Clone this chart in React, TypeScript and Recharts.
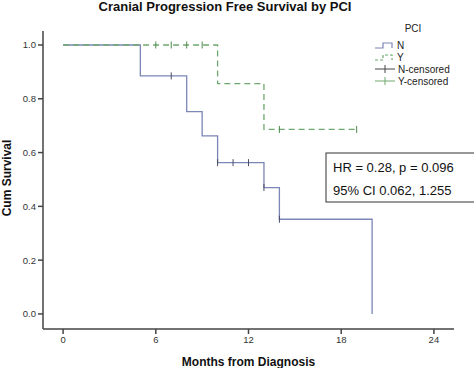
import { ComposedChart, Line, Scatter, XAxis, YAxis, Label } from 'recharts';

// Kaplan-Meier step points (months, cum survival)
const nMonths = [0, 5, 8, 9, 10, 13, 14, 20];
const nSurvival = [1, 0.885, 0.752, 0.662, 0.5625, 0.47, 0.352, 0];
const yMonths = [0, 10, 13, 19];
const ySurvival = [1, 0.856, 0.686, 0.686];

// censored observations
const nCensorMonths = [7, 10, 11, 12, 13, 14];
const nCensorSurvival = [0.885, 0.5625, 0.5625, 0.5625, 0.47, 0.352];
const yCensorMonths = [6, 7, 8, 9, 14, 19];
const yCensorSurvival = [1, 1, 1, 1, 0.686, 0.686];

const xTicks = [0, 6, 12, 18, 24];
const yTicks = [0, 0.2, 0.4, 0.6, 0.8, 1.0];

const zip = (xs: number[], ys: number[]) => xs.map((x, i) => ({ x, y: ys[i] }));

const nData = zip(nMonths, nSurvival);
const yData = zip(yMonths, ySurvival);
const nCensor = zip(nCensorMonths, nCensorSurvival);
const yCensor = zip(yCensorMonths, yCensorSurvival);

const N_COLOR = '#7b85b6';
const Y_COLOR = '#6fa86f';
const FONT = 'Arial, "Liberation Sans", sans-serif';

const tick = (color: string) => (props: any) => {
  const { cx, cy } = props;
  return <line x1={cx} x2={cx} y1={cy - 3.5} y2={cy + 3.5} stroke={color} strokeWidth={1} />;
};

export default function App() {
  return (
    <div style={{ position: 'absolute', left: 0, top: 0, width: 474, height: 368, background: '#fff' }}>
      <ComposedChart width={474} height={368} margin={{ top: 31, right: 20, bottom: 0, left: 0 }}>
        <XAxis
          dataKey="x"
          type="number"
          domain={[-1.3, 25.3]}
          ticks={xTicks}
          allowDataOverflow
          height={39}
          stroke="#444"
          strokeWidth={1.5}
          tickSize={5}
          tick={{ fill: '#333', fontSize: 9.5, fontFamily: FONT }}
        >
          <Label value="Months from Diagnosis" position="insideBottom" offset={2} style={{ fontWeight: 'bold', fontSize: 12, fill: '#111', fontFamily: FONT }} />
        </XAxis>
        <YAxis
          type="number"
          domain={[-0.056, 1.052]}
          ticks={yTicks}
          allowDataOverflow
          width={43}
          stroke="#444"
          strokeWidth={1.5}
          tickSize={5}
          tickFormatter={(v: number) => v.toFixed(1)}
          tick={{ fill: '#333', fontSize: 9.5, fontFamily: FONT }}
        />
        <Line data={nData} dataKey="y" type="stepAfter" stroke={N_COLOR} strokeWidth={1.3} dot={false} isAnimationActive={false} />
        <Line data={yData} dataKey="y" type="stepAfter" stroke={Y_COLOR} strokeWidth={1.3} strokeDasharray="6 4" dot={false} isAnimationActive={false} />
        <Scatter data={nCensor} dataKey="y" shape={tick('#4a4d66')} isAnimationActive={false} />
        <Scatter data={yCensor} dataKey="y" shape={tick('#4f8a4f')} isAnimationActive={false} />
      </ComposedChart>
      <svg width={474} height={368} style={{ position: 'absolute', left: 0, top: 0, pointerEvents: 'none' }} fontFamily={FONT}>
        <text x={225} y={11} textAnchor="middle" fontSize={13} fontWeight="bold" fill="#111">
          Cranial Progression Free Survival by PCI
        </text>
        <text transform="translate(11,178) rotate(-90)" textAnchor="middle" fontSize={12} fontWeight="bold" fill="#111">
          Cum Survival
        </text>
        <text x={413} y={32} textAnchor="middle" fontSize={10} fill="#222">PCI</text>
        <polyline points="375,48 383,48 383,43 392,43 392,48" fill="none" stroke={N_COLOR} strokeWidth={1.2} />
        <text x={397} y={49} fontSize={10} fill="#222">N</text>
        <polyline points="375,60 383,60 383,55 392,55 392,60" fill="none" stroke={Y_COLOR} strokeWidth={1.2} strokeDasharray="3 2" />
        <text x={397} y={61} fontSize={10} fill="#222">Y</text>
        <line x1={375} x2={395} y1={69} y2={69} stroke="#444" strokeWidth={1} />
        <line x1={385} x2={385} y1={65} y2={73} stroke="#444" strokeWidth={1} />
        <text x={398} y={73} fontSize={10} fill="#222">N-censored</text>
        <line x1={375} x2={395} y1={81} y2={81} stroke={Y_COLOR} strokeWidth={1} />
        <line x1={385} x2={385} y1={77} y2={85} stroke={Y_COLOR} strokeWidth={1} />
        <text x={398} y={85} fontSize={10} fill="#222">Y-censored</text>
        <rect x={326} y={153} width={160} height={49} fill="#fff" stroke="#333" strokeWidth={1} />
        <text x={333} y={172} fontSize={13} fill="#111">HR = 0.28, p = 0.096</text>
        <text x={333} y={195} fontSize={13} fill="#111">95% CI 0.062, 1.255</text>
      </svg>
    </div>
  );
}
